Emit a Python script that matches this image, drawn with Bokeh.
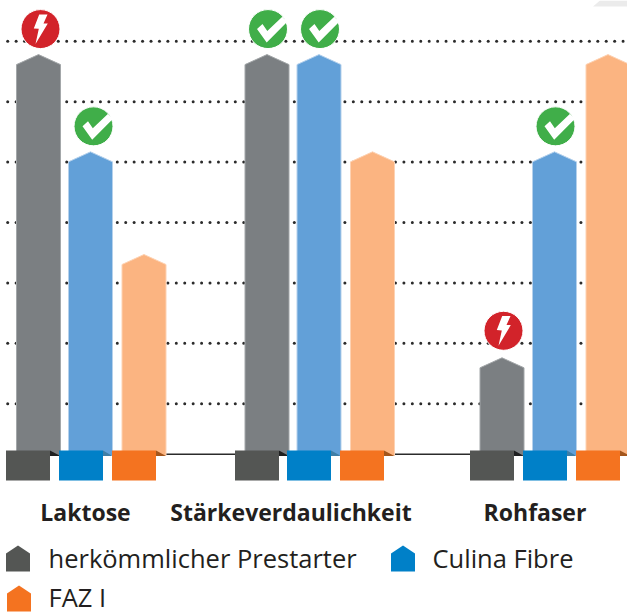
from bokeh.plotting import figure
from bokeh.embed import file_html
from bokeh.resources import INLINE
from bokeh.core.properties import value
import numpy as np

categories = ["Laktose", "Stärkeverdaulichkeit", "Rohfaser"]
series_names = ["herkömmlicher Prestarter", "Culina Fibre", "FAZ I"]
conventional = [6.78, 6.78, 1.76]
culina_fibre = [5.17, 6.78, 5.17]
faz_one = [3.47, 5.17, 6.78]
grid_levels = [1, 2, 3, 4, 5, 6, 7]

# marks: group, series, kind
icon_group = [0, 0, 1, 1, 2, 2]
icon_series = [0, 1, 0, 1, 1, 0]
icon_kind = ["bolt", "check", "check", "check", "check", "bolt"]

# ---- layout (pixels) ----
W, H = 627, 614
Y0_PX, UNIT_PX = 463.6, 60.4
def py(px):
    return (Y0_PX - px) / UNIT_PX

bar_lefts = [[16.5, 68.5, 122], [245, 297, 350.5], [480, 532.5, 586]]
sq_lefts = [[6, 59, 112], [235, 287, 340], [470, 523, 576]]
BAR_W, SQ_W = 44, 44
SHOULDER = 10 / UNIT_PX
BASE = py(455)
icon_dx = [2, 3, 1, 1, 1, 1.5]
icon_gap = [25.5, 25.5, 25.5, 25.5, 25.5, 27]
bar_fill = ["#7b7f82", "#62a0d8", "#fbb481"]
bar_edge = ["#a3a7a9", "#b5d1ec", "#fdd2b3"]
sq_fill = ["#545654", "#0080c8", "#f47320"]
fold_fill = ["#1f2021", "#3f7ea6", "#a4561c"]
INK = "#231f20"

p = figure(width=W, height=H, x_range=(0.5, W + 0.5), y_range=(py(H), py(0)),
           output_backend="svg", toolbar_location=None, min_border=0,
           outline_line_color=None, background_fill_color="white")
p.axis.visible = False
p.grid.visible = False
p.styles = {"position": "absolute", "left": "0px", "top": "0px"}

# corner decoration
p.patch([593, 600, 628, 628], [py(6), py(0), py(0), py(6)], fill_color="#ebebeb", line_color=None)

# dotted grid
dot_x = np.arange(7.7, W, 8.43)
gx = np.tile(dot_x, len(grid_levels))
gy = np.repeat(grid_levels, len(dot_x))
p.scatter(gx, gy, marker="circle", size=3.0, fill_color="#2b2b2b", line_color=None)

# baseline
p.line([50, 620], [py(453.8), py(453.8)], line_color="#2b2b2b", line_width=1.6)

series = [conventional, culina_fibre, faz_one]

# bars
for s in range(3):
    xs, ys = [], []
    for g in range(3):
        l, v = bar_lefts[g][s], series[s][g]
        r = l + BAR_W
        xs.append([l, l, (l + r) / 2, r, r])
        ys.append([BASE, v - SHOULDER, v, v - SHOULDER, BASE])
    p.patches(xs, ys, fill_color=bar_fill[s], line_color=bar_edge[s], line_width=1)

# feet: folds then squares
for s in range(3):
    fx, fy, left, right = [], [], [], []
    for g in range(3):
        l = sq_lefts[g][s]
        r = l + SQ_W
        fx.append([r, bar_lefts[g][s] + BAR_W, r])
        fy.append([py(450), py(455.5), py(455.5)])
        left.append(l); right.append(r)
    p.patches(fx, fy, fill_color=fold_fill[s], line_color=None)
    p.quad(left=left, right=right, top=py(450), bottom=py(480), fill_color=sq_fill[s], line_color=None)

# icons
CHECK = [(-11, 0), (-5.5, -5), (-0.7, 2), (14.3, -12.3), (19.3, -7.3), (-1.3, 13.3)]
BOLT = [(-1.3, -14.7), (7, -14.7), (3, -5.7), (7.3, -5.7), (-5, 15), (-1.7, -0.3), (-6.7, -0.7)]
for g, s, k, dx, gap in zip(icon_group, icon_series, icon_kind, icon_dx, icon_gap):
    cx = bar_lefts[g][s] + BAR_W / 2 + dx
    cy = Y0_PX - series[s][g] * UNIT_PX - gap
    color = "#d2232a" if k == "bolt" else "#40ae49"
    p.scatter([cx], [py(cy)], marker="circle", size=39, fill_color=color, line_color="white", line_width=1)
    shape = BOLT if k == "bolt" else CHECK
    p.patch([cx + a for a, b in shape], [py(cy + b) for a, b in shape], fill_color="white", line_color=None)

# category labels
p.text([85.5, 291, 535], [py(511.5)] * 3, text=categories, text_align="center", text_baseline="middle",
       text_font=value("Open Sans"), text_font_style="bold", text_font_size="23px", text_color=INK)

# legend
leg_x = [6, 391, 7]
leg_top = [545, 545, 585]
for i in range(3):
    x0, t = leg_x[i], leg_top[i]
    p.patch([x0, x0, x0 + 12, x0 + 24, x0 + 24], [py(t + 26), py(t + 8), py(t), py(t + 8), py(t + 26)],
            fill_color=sq_fill[i], line_color=None)
p.text([48.5, 432.5, 48.5], [py(557.5), py(557.5), py(596.5)], text=series_names, text_align="left",
       text_baseline="middle", text_font=value("Open Sans"), text_font_size="25.5px", text_color=INK)

open("out.html", "w").write(file_html(p, INLINE))
